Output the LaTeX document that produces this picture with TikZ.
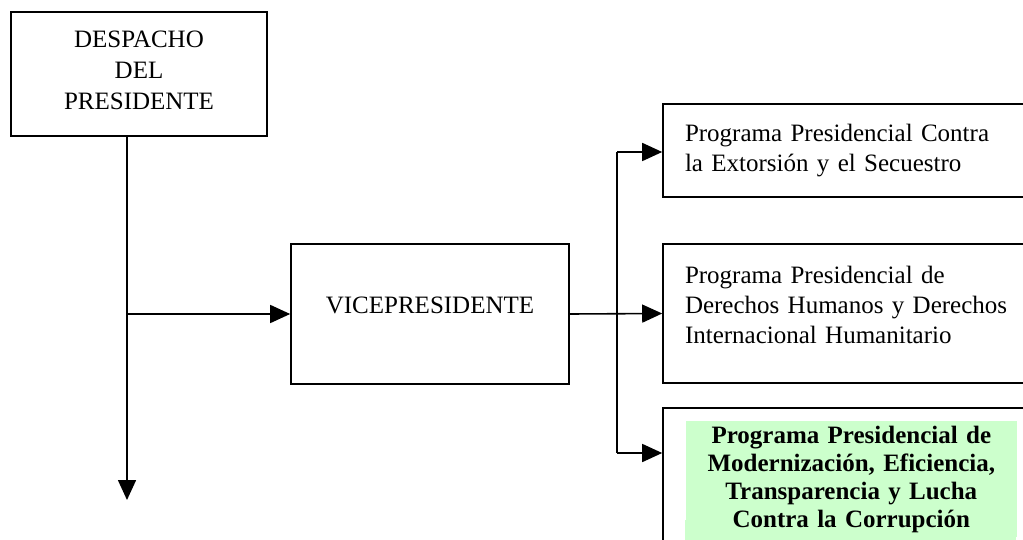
\documentclass[tikz,border=0pt]{standalone}
\usepackage{fontspec}
\setmainfont{Liberation Serif}
\usetikzlibrary{arrows.meta}
\definecolor{paleg}{RGB}{204,255,204}
\begin{document}
\begin{tikzpicture}[x=1pt,y=-1pt,line width=1.6pt,
  box/.style={draw,rectangle,inner sep=0pt,font=\fontsize{25pt}{31pt}\selectfont},
  lbox/.style={box,align=left,inner xsep=22pt,font=\fontsize{25pt}{30pt}\selectfont},
  arr/.style={-{Triangle[length=20pt,width=18pt]}}]
\useasboundingbox (0,0) rectangle (1023,540);
\clip (0,0) rectangle (1023,540);
\fill[white] (0,0) rectangle (1023,540);
\node[box,align=center,minimum width=256pt,minimum height=124pt,text depth=7pt] (desp) at (139,74) {DESPACHO\\DEL\\PRESIDENTE};
\node[box,minimum width=278pt,minimum height=140pt,text height=17pt,text depth=19pt] (vice) at (430,314) {VICEPRESIDENTE};
\node[lbox,text width=338pt,minimum height=93pt] (b1) at (854,150.5) {Programa Presidencial Contra\\la Extorsión y el Secuestro};
\node[lbox,text width=338pt,minimum height=139pt,text height=17.5pt,text depth=78pt] (b2) at (854,313.5) {Programa Presidencial de\\Derechos Humanos y Derechos\\Internacional Humanitario};
\node[box,minimum width=382pt,minimum height=152pt] (b3) at (854,484) {};
\fill[paleg] (685,520) rectangle (1016,545);
\node[fill=paleg,anchor=north west,text width=331pt,align=center,inner xsep=0pt,inner ysep=5pt,font=\fontsize{25pt}{28pt}\selectfont\bfseries] (g3) at (685,420) {Programa Presidencial de\\Modernización, Eficiencia,\\Transparencia y Lucha\\Contra la Corrupción};
\coordinate (m) at (127,500);
\coordinate (bt) at (617,152);
\coordinate (bb) at (617,453);
\draw[arr] (desp.south -| m) -- (m);
\draw[arr] (m |- vice.west) -- (vice.west);
\draw[arr] (vice.east) -- (b2.west);
\draw (bt) -- (bb);
\draw[arr] (bt) -- (bt -| b1.west);
\draw[arr] (bb) -- (bb -| b3.west);
\end{tikzpicture}
\end{document}
